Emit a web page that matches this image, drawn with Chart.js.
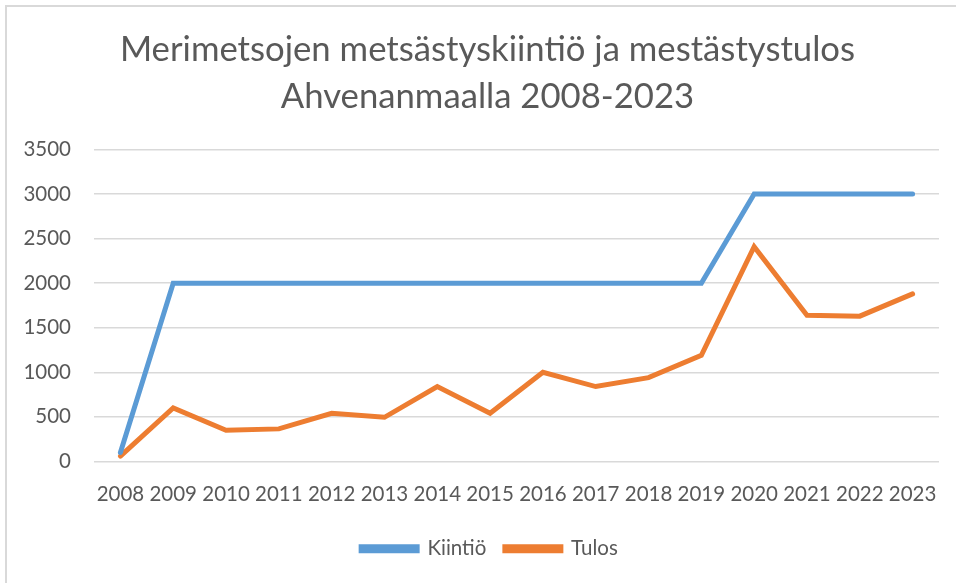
<!DOCTYPE html>
<html>
<head>
<meta charset="utf-8">
<script src="https://cdn.jsdelivr.net/npm/chart.js@4"></script>
<style>
  body { margin: 0; background: #fff; }
  #wrap { position: relative; width: 956px; height: 583px; overflow: hidden; }
  #frame { position: absolute; left: 5px; top: 5px; width: 1000px; height: 700px;
           border-left: 2px solid #d9d9d9; border-top: 2px solid #d9d9d9; }
  canvas { position: absolute; left: 0; top: 0; }
</style>
</head>
<body>
<div id="wrap">
  <div id="frame"></div>
  <canvas id="chartContainer" width="956" height="583"></canvas>
</div>
<script>
const years = ['2008', '2009', '2010', '2011', '2012', '2013', '2014', '2015',
               '2016', '2017', '2018', '2019', '2020', '2021', '2022', '2023'];
const kiintio = [100, 2000, 2000, 2000, 2000, 2000, 2000, 2000,
                 2000, 2000, 2000, 2000, 3000, 3000, 3000, 3000];
const tulos = [60, 600, 350, 365, 540, 495, 840, 540,
               1000, 840, 940, 1190, 2410, 1640, 1630, 1880];
const yTicks = [0, 500, 1000, 1500, 2000, 2500, 3000, 3500];

const textColor = '#595959';
const font = 'Lato, Calibri, sans-serif';

// title and legend sit a bit right of the canvas centre in the original
const shiftBoxes = {
    id: 'shiftBoxes',
    afterLayout(chart) {
        if (chart.titleBlock) { chart.titleBlock.left += 18; chart.titleBlock.right += 18; }
        if (chart.legend) { chart.legend.left += 20; chart.legend.right += 20; }
    }
};

const ctx = document.getElementById('chartContainer').getContext('2d');
new Chart(ctx, {
    type: 'line',
    data: {
        labels: years,
        datasets: [{
            label: 'Kiintiö',
            data: kiintio,
            borderColor: '#5B9BD5',
            backgroundColor: '#5B9BD5',
            borderWidth: 5,
            pointRadius: 0,
            borderCapStyle: 'round',
            tension: 0
        }, {
            label: 'Tulos',
            data: tulos,
            borderColor: '#ED7D31',
            backgroundColor: '#ED7D31',
            borderWidth: 5,
            pointRadius: 0,
            borderCapStyle: 'round',
            tension: 0
        }]
    },
    plugins: [shiftBoxes],
    options: {
        responsive: false,
        animation: false,
        layout: { padding: { left: 0, right: 17, top: 0, bottom: 14 } },
        plugins: {
            title: {
                display: true,
                text: ['Merimetsojen metsästyskiintiö ja mestästystulos', 'Ahvenanmaalla 2008-2023'],
                color: textColor,
                font: { family: font, size: 34.7, weight: 'normal', lineHeight: 1.355 },
                padding: { top: 26, bottom: 29.5 }
            },
            legend: {
                position: 'bottom',
                labels: {
                    color: textColor,
                    font: { family: font, size: 20.5 },
                    boxWidth: 56,
                    boxHeight: 4,
                    padding: 18.5
                }
            },
            tooltip: { enabled: false }
        },
        scales: {
            x: {
                offset: true,
                grid: { display: false },
                border: { display: false },
                ticks: {
                    color: textColor,
                    font: { family: font, size: 20.5 },
                    autoSkip: false,
                    maxRotation: 0,
                    padding: 13
                }
            },
            y: {
                min: 0,
                max: 3500,
                afterBuildTicks: function(scale) {
                    scale.ticks = yTicks.map(v => ({ value: v }));
                },
                afterFit: function(scale) { scale.width = 94; },
                grid: { color: '#d9d9d9', lineWidth: 1.5, drawTicks: false },
                border: { display: false },
                ticks: {
                    color: textColor,
                    font: { family: font, size: 20.5 },
                    padding: 23,
                    callback: function(value) { return String(value); }
                }
            }
        }
    }
});
</script>
</body>
</html>
